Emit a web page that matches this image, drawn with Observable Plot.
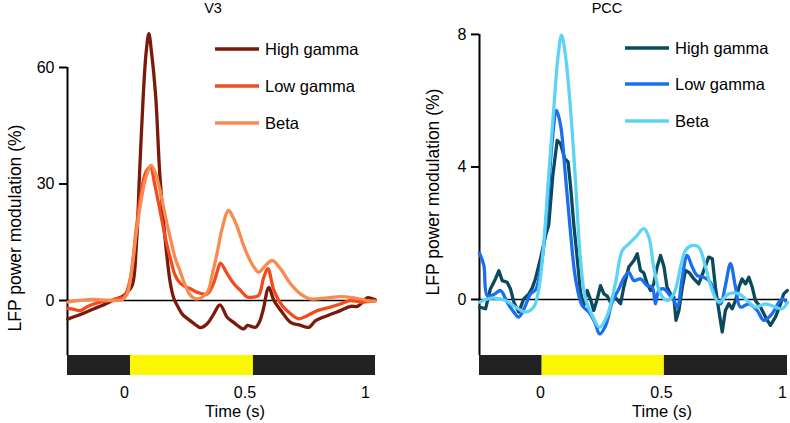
<!DOCTYPE html>
<html><head><meta charset="utf-8">
<script src="https://cdn.jsdelivr.net/npm/d3@7"></script>
<script src="https://cdn.jsdelivr.net/npm/@observablehq/plot@0.6"></script>
<style>
body{margin:0;background:#fff;}
#wrap{display:flex;width:790px;height:423px;overflow:hidden;}
#wrap svg{font-family:"Liberation Sans",Arial,sans-serif;overflow:visible;}
</style></head><body><div id="wrap"></div>
<script>
// ---------- data ----------
const bands = ["High gamma", "Low gamma", "Beta"];
const xTicks = [0, 0.5, 1];

// V3 panel: [time (s), modulation (%)]
const v3High = [[-0.236,-4.8],[-0.2,-4.0],[-0.16,-3.0],[-0.127,-2.1],[-0.09,-1.2],[-0.06,-0.3],[-0.03,0.5],[-0.01,1.0],[0.011,2.1],[0.032,3.9],[0.05,15],[0.062,32],[0.078,53],[0.09,64],[0.101,68.7],[0.112,64],[0.129,53],[0.147,32],[0.17,15],[0.19,4.5],[0.205,0.5],[0.219,-1.3],[0.24,-3.5],[0.26,-4.6],[0.29,-6.0],[0.315,-7.0],[0.343,-6.0],[0.37,-3.5],[0.396,-1.1],[0.426,-4.3],[0.45,-5.5],[0.468,-6.4],[0.495,-7.3],[0.51,-6.4],[0.523,-6.6],[0.544,-6.9],[0.56,-5.5],[0.575,-2.5],[0.599,3.4],[0.62,0.0],[0.654,-3.0],[0.689,-5.6],[0.73,-6.4],[0.765,-6.9],[0.793,-5.2],[0.841,-3.9],[0.896,-2.6],[0.938,-1.5],[0.966,-1.5],[0.99,-0.3],[1.007,0.7],[1.04,0.2]];
const v3Low = [[-0.236,-2.0],[-0.21,-2.3],[-0.183,-2.6],[-0.155,-1.6],[-0.127,-0.9],[-0.09,-0.3],[-0.058,0],[-0.03,0.5],[-0.003,0.9],[0.022,5],[0.05,19],[0.075,30],[0.092,33.5],[0.108,34.3],[0.125,30],[0.149,22.7],[0.17,16],[0.191,10.7],[0.21,6.5],[0.232,4.4],[0.255,3.5],[0.274,3.0],[0.302,2.1],[0.343,1.7],[0.371,4.7],[0.385,7.5],[0.398,9.6],[0.426,6.9],[0.454,4.3],[0.481,2.6],[0.509,0.9],[0.537,0.9],[0.557,1.3],[0.578,6.0],[0.595,8.2],[0.62,2.6],[0.654,-1.3],[0.689,-3.4],[0.723,-4.7],[0.758,-3.9],[0.8,-2.6],[0.855,-1.7],[0.896,-0.9],[0.938,0],[0.979,-0.4],[1.02,-0.2],[1.04,-0.1]];
const v3Beta = [[-0.236,-0.4],[-0.19,0.0],[-0.127,0.3],[-0.08,0.1],[-0.04,0.0],[-0.01,0.2],[0.01,1.5],[0.025,5.6],[0.053,19.3],[0.087,31.3],[0.111,34.8],[0.13,32.5],[0.149,27.9],[0.17,21.5],[0.191,15.9],[0.21,11],[0.232,7.3],[0.255,3.5],[0.274,1.3],[0.302,0.4],[0.343,2.1],[0.365,7],[0.385,12.4],[0.405,18.5],[0.432,23.2],[0.45,21.5],[0.468,18.9],[0.502,12.9],[0.537,8.6],[0.557,7.3],[0.585,9.0],[0.613,10.3],[0.647,8.2],[0.689,4.3],[0.73,1.7],[0.772,0.4],[0.841,0.7],[0.896,1.0],[0.951,0.7],[1.007,0],[1.04,-0.2]];

// PCC panel
const pccHigh = [[-0.252,-0.23],[-0.227,-0.28],[-0.207,0.32],[-0.186,0.62],[-0.172,0.87],[-0.158,0.57],[-0.138,0.52],[-0.124,0.32],[-0.11,-0.08],[-0.09,-0.38],[-0.069,0.02],[-0.048,0.17],[-0.034,0.35],[-0.021,0.62],[0,1.23],[0.021,1.93],[0.034,2.24],[0.051,3.75],[0.069,4.8],[0.083,4.7],[0.1,4.25],[0.114,4.15],[0.124,3.44],[0.138,2.24],[0.152,1.23],[0.165,0.22],[0.179,-0.18],[0.193,0.27],[0.207,0],[0.22,-0.33],[0.234,0],[0.248,0.42],[0.262,0.17],[0.276,0.1],[0.289,-0.08],[0.31,0.05],[0.331,-0.13],[0.344,0.37],[0.365,0.98],[0.386,1.18],[0.4,1.38],[0.413,0.88],[0.427,0.8],[0.441,0.47],[0.455,0.27],[0.468,0.47],[0.482,0.98],[0.496,1.33],[0.51,1.0],[0.523,0.37],[0.537,0.17],[0.551,0.07],[0.56,-0.63],[0.572,-0.33],[0.586,0.37],[0.599,0.88],[0.616,0.8],[0.634,0.62],[0.654,0.47],[0.675,0.88],[0.695,1.28],[0.71,1.23],[0.723,0.37],[0.737,-0.33],[0.751,-0.98],[0.764,-0.33],[0.778,-0.13],[0.792,-0.28],[0.806,-0.03],[0.82,0.37],[0.833,0.62],[0.847,0.47],[0.861,0.67],[0.875,0.37],[0.888,-0.03],[0.909,-0.23],[0.93,-0.53],[0.95,-0.78],[0.971,-0.53],[0.992,-0.13],[1.005,0.17],[1.02,0.27]];
const pccLow = [[-0.252,1.4],[-0.234,1.03],[-0.22,0.12],[-0.193,0.15],[-0.165,0.27],[-0.138,-0.08],[-0.11,-0.38],[-0.09,-0.53],[-0.062,-0.18],[-0.041,0.17],[-0.02,0.3],[0.007,1.23],[0.028,2.74],[0.048,4.75],[0.066,5.71],[0.083,5.26],[0.103,3.75],[0.124,2.03],[0.145,0.62],[0.172,-0.18],[0.2,-0.38],[0.227,-0.73],[0.244,-1.04],[0.269,-0.79],[0.296,-0.08],[0.324,0.32],[0.345,0.65],[0.365,0.82],[0.386,0.57],[0.413,0.62],[0.441,0.42],[0.462,0.37],[0.475,-0.13],[0.489,0.27],[0.51,0.32],[0.53,0.17],[0.551,-0.03],[0.565,-0.23],[0.586,0.67],[0.606,1.33],[0.627,0.98],[0.648,0.72],[0.675,0.67],[0.702,0.52],[0.723,0.07],[0.744,-0.13],[0.764,0.42],[0.785,1.08],[0.806,0.37],[0.826,-0.23],[0.861,-0.13],[0.895,-0.33],[0.923,-0.63],[0.957,-0.43],[0.985,-0.08],[0.999,0.02],[1.02,-0.1]];
const pccBeta = [[-0.252,-0.08],[-0.2,0.04],[-0.145,-0.03],[-0.103,-0.23],[-0.062,-0.38],[-0.028,-0.23],[-0.007,0.32],[0.014,1.73],[0.034,3.75],[0.055,5.76],[0.073,7.37],[0.087,7.98],[0.103,7.37],[0.124,5.76],[0.145,3.54],[0.165,1.23],[0.186,0.02],[0.214,-0.48],[0.244,-0.84],[0.276,-0.48],[0.31,0.5],[0.338,1.48],[0.365,1.68],[0.393,1.88],[0.427,2.14],[0.448,1.88],[0.468,0.98],[0.496,0.17],[0.523,-0.03],[0.551,0.17],[0.579,0.98],[0.599,1.48],[0.627,1.63],[0.654,1.58],[0.682,0.98],[0.71,0.27],[0.737,-0.08],[0.778,0.17],[0.82,0.17],[0.854,-0.03],[0.888,-0.23],[0.93,-0.13],[0.971,-0.23],[0.999,-0.28],[1.02,-0.1]];

// stimulus epochs (s): fixation / stimulus / post
const v3Stim = [-0.2365, 0.025, 0.535, 1.0415];
const pccStim = [-0.252, 0.007, 0.512, 1.0207];

// ---------- drawing ----------
const FONT = '"Liberation Sans", Arial, sans-serif';

function addText(svg, x, y, str, size, anchor, rotate) {
  return svg.append("text")
    .attr("transform", rotate ? `translate(${x},${y}) rotate(${rotate})` : `translate(${x},${y})`)
    .attr("text-anchor", anchor)
    .style("font-size", size + "px")
    .style("font-family", FONT)
    .style("text-anchor", anchor)
    .attr("fill", "#000")
    .text(str);
}

function panel(cfg) {
  const s = cfg.stim;
  const epochs = [
    {start: s[0], end: s[1], kind: "off"},
    {start: s[1], end: s[2], kind: "on"},
    {start: s[2], end: s[3], kind: "off"}
  ];
  const lineMarks = bands.map((b, i) => Plot.line(cfg.series[i].map(([t, v]) => ({t, v, band: b})),
    {x: "t", y: "v", stroke: "band", strokeWidth: 3.3, curve: cfg.curves[i],
     strokeLinejoin: "round", strokeLinecap: "round"}));
  const plot = Plot.plot({
    width: 395, height: 423,
    marginLeft: cfg.ml, marginRight: cfg.mr, marginTop: 20, marginBottom: 48,
    x: {domain: [s[0], s[3]], axis: null},
    y: {domain: cfg.yDomain, axis: null},
    color: {domain: bands, range: cfg.colors},
    style: {fontFamily: FONT, fontSize: "16px", color: "#000", background: "#fff"},
    marks: [
      Plot.ruleY([0], {stroke: "#000", strokeWidth: 1.3}),
      Plot.rect(epochs, {x1: "start", x2: "end", y1: cfg.barBottom, y2: cfg.barTop,
        fill: d => d.kind === "on" ? "#fbf700" : "#222222"}),
      Plot.ruleX([s[0]], {y1: cfg.barTop, y2: cfg.yTicks[cfg.yTicks.length - 1], stroke: "#000", strokeWidth: 2}),
      Plot.axisY({ticks: cfg.yTicks, tickSize: 8, tickPadding: 5, strokeWidth: 2, fontSize: 16, label: null, tickFormat: d => String(d)}),
      Plot.axisX({ticks: xTicks, tickSize: 0, tickPadding: 11, fontSize: 16, label: null, tickFormat: d => String(d)}),
      ...lineMarks
    ]
  });
  const svg = d3.select(plot);
  addText(svg, cfg.titleX, 13, cfg.title, 14.5, "middle");
  addText(svg, cfg.ylabX, cfg.ylabY, "LFP power modulation (%)", 17.5, "middle", -90).attr("dy", "0.35em");
  addText(svg, cfg.xlabX, 417, "Time (s)", 16.5, "middle");
  bands.forEach((b, i) => {
    const y = cfg.legY[i];
    svg.append("line").attr("x1", cfg.legX).attr("x2", cfg.legX + 44).attr("y1", y).attr("y2", y)
      .attr("stroke", cfg.colors[i]).attr("stroke-width", 3.6);
    addText(svg, cfg.legX + 50, y, b, 16.5, "start").attr("dy", "0.36em");
  });
  return plot;
}

const wrap = document.getElementById("wrap");
wrap.append(panel({
  title: "V3", titleX: 213,
  series: [v3High, v3Low, v3Beta],
  colors: ["#7a1a0b", "#f24b1e", "#fa8b50"],
  curves: ["catmull-rom", "catmull-rom", "catmull-rom"],
  stim: v3Stim, ml: 67, mr: 20,
  yDomain: [-19.31, 72.1], yTicks: [0, 30, 60], barTop: -14.16, barBottom: -19.31,
  ylabX: 15, ylabY: 228, xlabX: 235,
  legX: 215, legY: [49, 86, 123]
}));
wrap.append(panel({
  title: "PCC", titleX: 212,
  series: [pccHigh, pccLow, pccBeta],
  colors: ["#0b4a5d", "#1b6ef0", "#5fd3f3"],
  curves: ["linear", "catmull-rom", "catmull-rom"],
  stim: pccStim, ml: 84, mr: 3,
  yDomain: [-2.294, 8.42], yTicks: [0, 4, 8], barTop: -1.69, barBottom: -2.294,
  ylabX: 38, ylabY: 192, xlabX: 267,
  legX: 230, legY: [48, 84, 121]
}));
</script></body></html>
